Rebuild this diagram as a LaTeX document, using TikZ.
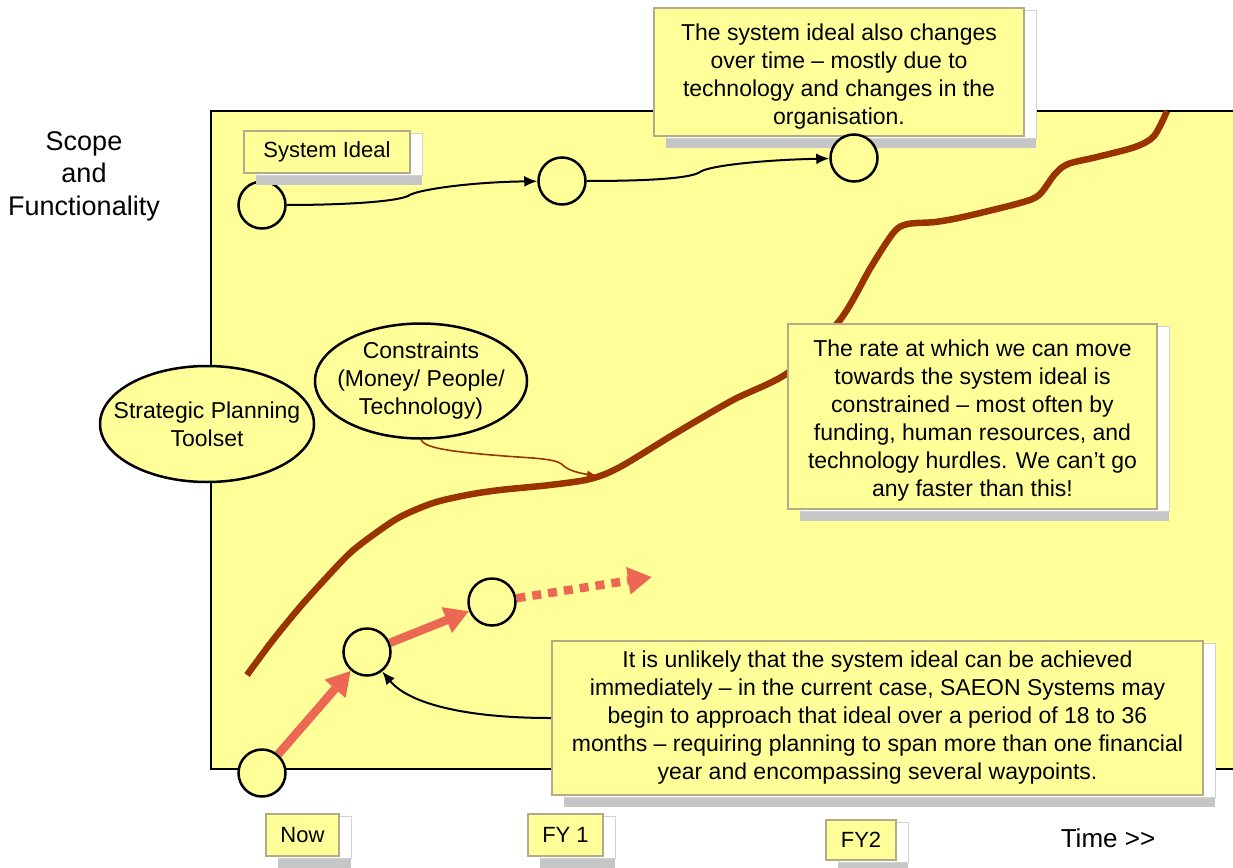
\documentclass[tikz,border=0pt]{standalone}
\usepackage{fontspec}
\setmainfont{Liberation Sans}
\usetikzlibrary{shapes.geometric,arrows.meta,shadows}
\definecolor{pad}{RGB}{255,255,153}
\definecolor{rim}{RGB}{180,170,135}
\definecolor{trend}{RGB}{153,51,0}
\definecolor{waycolor}{RGB}{236,104,82}
\begin{document}
\begin{tikzpicture}
  [x=1pt,y=-1pt,
   font=\fontsize{23}{28}\selectfont,
   boxshadow/.style={general shadow={fill=gray!45,shadow xshift=12pt,shadow yshift=-12pt},
                     general shadow={fill=white,draw=gray!35,line width=0.8pt,
                                     shadow xshift=12pt,shadow yshift=-2pt}},
   callout/.style={rectangle,
                   fill=pad,
                   draw=rim,
                   line width=2.5pt,
                   align=center,
                   inner sep=6pt,
                   boxshadow},
   tag/.style={callout,inner sep=0pt,font=\fontsize{22}{26}\selectfont},
   waypoint/.style={circle,draw,line width=2.5pt,fill=pad,minimum size=47pt,inner sep=0pt},
   oval/.style={ellipse,draw,line width=2.5pt,fill=pad,inner sep=0pt},
   link/.style={draw,line width=2pt,-{Latex[length=13pt,width=11pt]}},
   pull/.style={draw=trend,line width=1.6pt,-{Latex[length=10pt,width=8pt]}},
   progress/.style={draw=waycolor,line width=8.5pt,-{Triangle[length=24pt,width=26pt]}},
   trendline/.style={draw=trend,line width=6.5pt}]
  \useasboundingbox (0,0) rectangle (1233,867);

  % the field
  \draw[line width=2.2pt,fill=pad] (211,111) rectangle (1260,769);
  \node[align=center,font=\fontsize{27}{32.5}\selectfont] (scope) at (84,176) {Scope\\and\\Functionality};
  \node[font=\fontsize{26}{30}\selectfont] (time) at (1108,838) {Time >\kern0pt>};

  % rate of progress
  \draw[trendline] plot[smooth,tension=0.5] coordinates {
     (247,675) (273,640) (300,607) (327,577) (350,553) (373,535) (400,517) (433,503)
     (467,495) (500,490) (550,485) (590,479) (620,467) (676,433) (733,400) (789,372)
     (840,320) (871,267) (894,232) (908,224) (935,222) (963,217) (1020,203) (1039,195)
     (1055,174) (1068,164) (1097,157) (1135,147) (1154,136) (1167,111)};

  \node[oval,minimum width=214pt,minimum height=116pt,
        label={[name=toolsetlabel,align=center]center:{Strategic Planning\\Toolset}}] (toolset) at (207,424) {};
  \node[oval,minimum width=212pt,minimum height=115pt,
        label={[name=conslabel,align=center]center:{Constraints\\(Money/ People/\\Technology)}}] (cons) at (421,381) {};
  \draw[pull] (cons.south) .. controls (425,447) and (440,452) .. (533,458)
                           .. controls (556,460) and (560,462) .. (565,467)
                           .. controls (572,472) and (585,474) .. (597,476);

  % system ideal
  \node[waypoint] (ideal1) at (262,205) {};
  \node[tag,minimum width=166pt,minimum height=42pt] (idealtag) at (327,152) {System Ideal};
  \node[waypoint] (ideal2) at (562,181) {};
  \node[callout,minimum width=370pt,minimum height=128pt] (idealnote) at (839,72)
       {\rule{0pt}{25pt}The system ideal also changes\\over time -- mostly due to\\technology and changes in the\\organisation.};
  \node[waypoint] (ideal3) at (854,158) {};
  \draw[link] (ideal1) .. controls (340,205) and (395,202) .. (408,196)
                       .. controls (415,190) and (470,182) .. (ideal2);
  \draw[link] (ideal2) .. controls (640,181) and (690,179) .. (700,172)
                       .. controls (708,166) and (760,160) .. (ideal3);

  \node[callout,minimum width=369pt,minimum height=185pt] (ratenote) at (972.5,416.5)
       {\rule{0pt}{25pt}The rate at which we can move\\towards the system ideal is\\constrained -- most often by\\funding, human resources, and\\technology hurdles. We can’t go\\any faster than this!};

  % waypoints
  \node[waypoint] (wayA) at (262,773) {};
  \node[waypoint] (wayB) at (367,652) {};
  \node[waypoint] (wayC) at (492,602) {};
  \coordinate (wayD) at (652,577);
  \draw[progress] (wayA) -- (wayB);
  \draw[progress] (wayB) -- (wayC);
  \draw[progress,dash pattern=on 9pt off 7pt] (wayC) -- (wayD);

  \node[callout,minimum width=651pt,minimum height=154pt] (waynote) at (877.5,718)
       {It is unlikely that the system ideal can be achieved\\immediately -- in the current case, SAEON Systems may\\begin to approach that ideal over a period of 18 to 36\\months -- requiring planning to span more than one financial\\year and encompassing several waypoints.};
  \draw[link] (waynote.west) .. controls (470,718) and (410,705) .. (wayB.-52);

  % time marks
  \node[tag,minimum width=73pt,minimum height=42pt] (nowtag) at (302.5,835) {Now};
  \node[tag,minimum width=75pt,minimum height=42pt] (fy1tag) at (565.5,835) {FY 1};
  \node[tag,minimum width=70pt,minimum height=40pt] (fy2tag) at (861,840) {FY2};
\end{tikzpicture}
\end{document}
